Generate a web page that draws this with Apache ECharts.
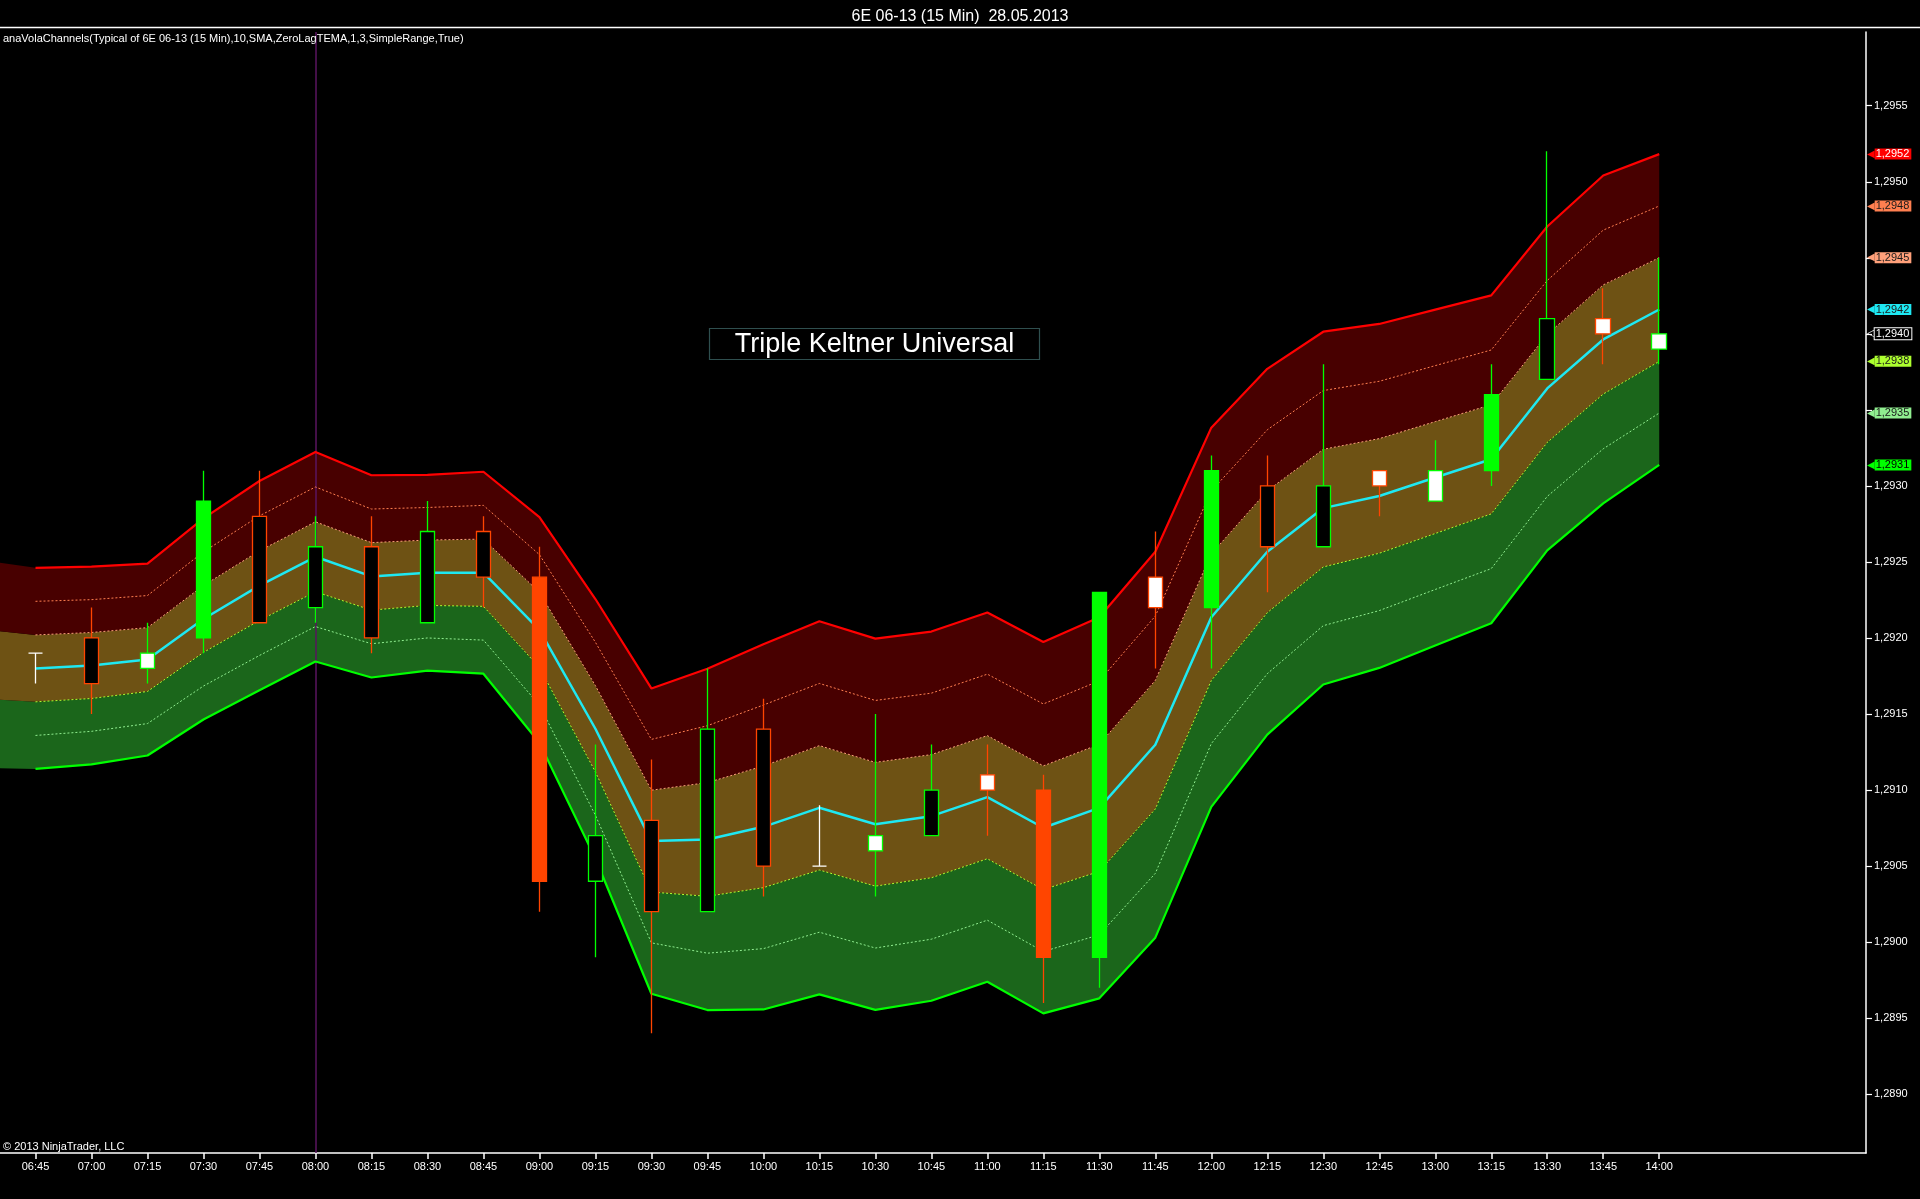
<!DOCTYPE html>
<html>
<head>
<meta charset="utf-8">
<script src="https://cdn.jsdelivr.net/npm/echarts@6/dist/echarts.min.js"></script>
<style>
html,body{margin:0;padding:0;background:#000;}
#c{width:1920px;height:1199px;}
</style>
</head>
<body>
<div id="c"></div>
<script>
// ---- time slots (06:30 is the bar before the visible window; only the channel fill reaches it) ----
const times = ['06:30','06:45','07:00','07:15','07:30','07:45','08:00','08:15','08:30','08:45',
  '09:00','09:15','09:30','09:45','10:00','10:15','10:30','10:45','11:00','11:15','11:30',
  '11:45','12:00','12:15','12:30','12:45','13:00','13:15','13:30','13:45','14:00'];

// ---- channel lines (one value per time slot) ----
const upperOuter = [1.292513,1.292461,1.292469,1.292489,1.292786,1.293032,1.293223,1.293070,1.293073,1.293093,
  1.292795,1.292256,1.291668,1.291797,1.291959,1.292110,1.291996,1.292042,1.292167,1.291973,1.292136,
  1.292567,1.293383,1.293770,1.294014,1.294065,1.294159,1.294253,1.294706,1.295041,1.295182];
const upperMid = [1.292285,1.292241,1.292252,1.292279,1.292566,1.292803,1.292993,1.292848,1.292858,1.292872,
  1.292548,1.291972,1.291333,1.291423,1.291559,1.291701,1.291589,1.291637,1.291762,1.291566,1.291718,
  1.292144,1.292967,1.293369,1.293627,1.293688,1.293791,1.293894,1.294351,1.294682,1.294841];
const upperInner = [1.292057,1.292020,1.292036,1.292068,1.292345,1.292573,1.292764,1.292627,1.292644,1.292650,
  1.292300,1.291687,1.290999,1.291049,1.291158,1.291292,1.291182,1.291233,1.291358,1.291159,1.291301,
  1.291721,1.292552,1.292968,1.293241,1.293311,1.293423,1.293534,1.293996,1.294322,1.294501];
const middle = [1.291829,1.291800,1.291819,1.291858,1.292125,1.292344,1.292534,1.292405,1.292429,1.292429,
  1.292053,1.291403,1.290664,1.290675,1.290758,1.290883,1.290775,1.290828,1.290953,1.290752,1.290883,
  1.291298,1.292136,1.292567,1.292854,1.292934,1.293055,1.293175,1.293641,1.293963,1.294160];
const lowerInner = [1.291601,1.291580,1.291602,1.291648,1.291905,1.292115,1.292304,1.292183,1.292214,1.292208,
  1.291806,1.291119,1.290329,1.290301,1.290358,1.290474,1.290368,1.290423,1.290548,1.290345,1.290465,
  1.290875,1.291720,1.292166,1.292467,1.292557,1.292687,1.292816,1.293286,1.293604,1.293819];
const lowerMid = [1.291373,1.291359,1.291386,1.291437,1.291684,1.291885,1.292075,1.291962,1.292000,1.291986,
  1.291558,1.290834,1.289995,1.289927,1.289957,1.290065,1.289961,1.290019,1.290144,1.289938,1.290048,
  1.290452,1.291305,1.291765,1.292081,1.292180,1.292319,1.292456,1.292931,1.293244,1.293479];
const lowerOuter = [1.291145,1.291139,1.291169,1.291227,1.291464,1.291656,1.291845,1.291740,1.291785,1.291765,
  1.291311,1.290550,1.289660,1.289553,1.289557,1.289656,1.289554,1.289614,1.289739,1.289531,1.289630,
  1.290029,1.290889,1.291364,1.291694,1.291803,1.291951,1.292097,1.292576,1.292885,1.293138];

// ---- price bars 06:45 .. 14:00 ----
const opens  = [1.2919,1.2920,1.2918,1.2920,1.2928,1.2922,1.2926,1.2921,1.2927,1.2924,1.2904,1.2908,1.2902,1.2914,1.2905,
  1.2906,1.2907,1.2911,1.2910,1.2899,1.2924,1.2922,1.2930,1.2926,1.2931,1.2929,1.2931,1.2937,1.2941,1.2939];
const highs  = [1.2919,1.2922,1.2921,1.2931,1.2931,1.2928,1.2928,1.2929,1.2928,1.2926,1.2913,1.2912,1.2918,1.2916,1.2909,
  1.2915,1.2913,1.2913,1.2911,1.2923,1.2927,1.2932,1.2932,1.2938,1.2931,1.2933,1.2938,1.2952,1.2943,1.2945];
const lows   = [1.2917,1.2915,1.2917,1.2919,1.2921,1.2921,1.2919,1.2921,1.2922,1.2902,1.2899,1.2894,1.2902,1.2903,1.2905,
  1.2903,1.2907,1.2907,1.2896,1.2897,1.2918,1.2918,1.2923,1.2926,1.2928,1.2929,1.2930,1.2937,1.2938,1.2938];
const closes = [1.2919,1.2917,1.2919,1.2929,1.2921,1.2926,1.2920,1.2927,1.2924,1.2904,1.2907,1.2902,1.2914,1.2905,1.2905,
  1.2907,1.2910,1.2910,1.2899,1.2923,1.2922,1.2931,1.2926,1.2930,1.2930,1.2931,1.2936,1.2941,1.2940,1.2940];
// bar state: F = trend (filled), H = hollow, W = white body, D = doji
const barState = ['D','H','W','F','H','H','H','H','H','F','H','H','H','H','D',
  'W','H','W','F','F','W','F','H','H','W','W','F','H','W','W'];

// ---- price axis ticks (labels hidden where the value tags sit) ----
const yTicks = [1.2890,1.2895,1.2900,1.2905,1.2910,1.2915,1.2920,1.2925,1.2930,1.2935,1.2940,1.2945,1.2950,1.2955];
const yTickLabels = [1.2890,1.2895,1.2900,1.2905,1.2910,1.2915,1.2920,1.2925,1.2930,1.2950,1.2955];

const FONT = '"Liberation Sans", Arial, sans-serif';
const UP = '#00FF00', DOWN = '#FF4500', DOJI = '#FFFFFF';
const fmt = v => v.toFixed(4).replace('.', ',');
const xs = times.map((t, k) => k);
const tickIdx = xs.slice(1);
const full = arr => arr.map((v, k) => [xs[k], v]);
const fromFirstBar = arr => arr.slice(1).map((v, k) => [xs[k + 1], v]);
// stacked fills: value column first so the price dimension is the stacked one
const stackBase = arr => arr.map((v, k) => [v, xs[k]]);
const gap = (hi, lo) => hi.map((v, k) => [v - lo[k], xs[k]]);

function tag(value, bg, fg, outline) {
  return {
    silent: true, z: 6, symbol: ['none', 'none'], animation: false, precision: 6,
    lineStyle: { width: 0, color: 'rgba(0,0,0,0)', opacity: 1 },
    label: {
      show: true, position: 'end', distance: 1,
      formatter: () => '{a|' + (outline ? '\u25C1' : '\u25C0') + '}{b|' + fmt(value) + '}',
      rich: {
        a: { color: outline ? '#FFFFFF' : bg, fontSize: 10, fontFamily: '"DejaVu Sans"', lineHeight: 13 },
        b: { backgroundColor: bg, color: fg, fontSize: 11, fontFamily: FONT, lineHeight: 13,
             padding: [0, 2, 0, 1], borderColor: outline ? '#FFFFFF' : bg, borderWidth: outline ? 1 : 0 }
      }
    },
    data: [{ yAxis: value }]
  };
}

function stackFill(data, color) {
  const s = { type: 'line', data: data, stack: 'band', encode: { x: 1, y: 0 }, symbol: 'none', z: 1,
    silent: true, animation: false, lineStyle: { width: 0 } };
  if (color) s.areaStyle = { color: color, opacity: 1 };
  return s;
}
function bandLine(arr, color, width, dotted, tagFg) {
  return { type: 'line', data: fromFirstBar(arr), symbol: 'none', z: 3, silent: true, animation: false,
    lineStyle: { color: color, width: width, type: dotted ? [2, 2] : 'solid' },
    markLine: tag(arr[arr.length - 1], color, tagFg, false) };
}

const candleData = opens.map((o, i) => {
  const c = closes[i];
  const dir = c > o ? UP : (c < o ? DOWN : DOJI);
  const st = barState[i];
  const edge = st === 'D' ? DOJI : dir;
  const fill = st === 'F' ? dir : (st === 'H' ? '#000000' : '#FFFFFF');
  return { value: [xs[i + 1], o, c, lows[i], highs[i]],
    itemStyle: { color: fill, color0: fill, borderColor: edge, borderColor0: edge, borderColorDoji: edge } };
});

const chart = echarts.init(document.getElementById('c'), null, { renderer: 'canvas', width: 1920, height: 1199 });
chart.setOption({
  backgroundColor: '#000000',
  animation: false,
  textStyle: { fontFamily: FONT },
  title: {
    text: '6E 06-13 (15 Min)  28.05.2013', left: 'center', top: 4,
    textStyle: { color: '#FFFFFF', fontSize: 16, fontWeight: 'normal', fontFamily: FONT }
  },
  grid: { left: 0, right: 54, top: 32, bottom: 46, containLabel: false, outerBoundsMode: 'none' },
  xAxis: {
    type: 'value', min: 0.366, max: 33.693,
    axisLine: { show: true, onZero: false, lineStyle: { color: '#FFFFFF', width: 1.5 } },
    axisTick: { show: true, customValues: tickIdx, length: 6, lineStyle: { color: '#FFFFFF', width: 1.5 } },
    axisLabel: { show: true, customValues: tickIdx, formatter: v => times[Math.round(v)] || '',
      color: '#FFFFFF', fontSize: 11, margin: 8, fontFamily: FONT },
    splitLine: { show: false }
  },
  yAxis: {
    type: 'value', position: 'right', min: 1.288613, max: 1.295985, scale: true,
    axisLine: { show: true, onZero: false, lineStyle: { color: '#FFFFFF', width: 1.5 } },
    axisTick: { show: true, customValues: yTicks, length: 6, lineStyle: { color: '#FFFFFF', width: 1.2 } },
    axisLabel: { show: true, customValues: yTickLabels, formatter: v => fmt(v), color: '#FFFFFF',
      fontSize: 11, margin: 8, fontFamily: FONT },
    splitLine: { show: false }
  },
  graphic: [
    { type: 'line', shape: { x1: 0, y1: 27.5, x2: 1920, y2: 27.5 }, style: { stroke: '#FFFFFF', lineWidth: 1.5 }, z: 10 },
    { type: 'text', left: 3, top: 33, z: 10,
      style: { text: 'anaVolaChannels(Typical of 6E 06-13 (15 Min),10,SMA,ZeroLagTEMA,1,3,SimpleRange,True)',
        fill: '#FFFFFF', font: '11px "Liberation Sans", Arial, sans-serif' } },
    { type: 'text', left: 3, top: 1141, z: 10,
      style: { text: '\u00A9 2013 NinjaTrader, LLC', fill: '#FFFFFF', font: '11px "Liberation Sans", Arial, sans-serif' } },
    { type: 'rect', shape: { x: 709.5, y: 328.5, width: 330, height: 31 }, z: 10,
      style: { fill: '#000000', stroke: '#2F4F4F', lineWidth: 1.2 } },
    { type: 'text', x: 874.5, y: 344.5, z: 11,
      style: { text: 'Triple Keltner Universal', fill: '#FFFFFF', font: '27px "Liberation Sans", Arial, sans-serif',
        textAlign: 'center', textVerticalAlign: 'middle' } }
  ],
  series: [
    stackFill(stackBase(lowerOuter), null),
    stackFill(gap(lowerInner, lowerOuter), '#1B661B'),
    stackFill(gap(upperInner, lowerInner), '#6E5214'),
    stackFill(gap(upperOuter, upperInner), '#480000'),
    { type: 'line', data: full(middle), symbol: 'none', z: 2, silent: true, animation: false,
      lineStyle: { opacity: 0, width: 0 },
      markLine: { silent: true, z: 2, symbol: ['none', 'none'], animation: false, label: { show: false },
        lineStyle: { color: '#5A145F', width: 1.5, type: 'solid', opacity: 1 },
        data: [{ xAxis: times.indexOf('08:00') }] } },
    bandLine(upperOuter, '#FF0000', 2.2, false, '#FFFFFF'),
    bandLine(upperMid, '#FF7F50', 1, true, '#1A1A1A'),
    bandLine(upperInner, '#FFA07A', 1, true, '#1A1A1A'),
    bandLine(middle, '#1EE8F2', 2.5, false, '#1A1A1A'),
    bandLine(lowerInner, '#ADFF2F', 1, true, '#1A1A1A'),
    bandLine(lowerMid, '#90EE90', 1, true, '#1A1A1A'),
    bandLine(lowerOuter, '#00FF00', 2.2, false, '#000000'),
    { type: 'candlestick', data: candleData, barWidth: 15, z: 4, silent: true, animation: false,
      itemStyle: { borderWidth: 1.3 },
      markLine: tag(closes[closes.length - 1], '#000000', '#FFFFFF', true) }
  ]
});
</script>
</body>
</html>
